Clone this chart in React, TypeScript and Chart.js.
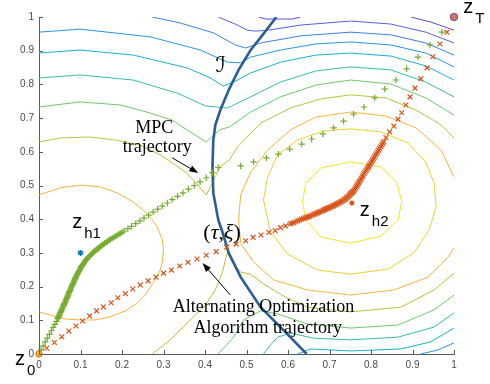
import React, { useEffect, useRef } from 'react';
import { Chart, registerables } from 'chart.js';
Chart.register(...registerables);

type P = [number, number];

const xTickLabels = ['0', '0.1', '0.2', '0.3', '0.4', '0.5', '0.6', '0.7', '0.8', '0.9', '1'];
const yTickLabels = ['0', '0.1', '0.2', '0.3', '0.4', '0.5', '0.6', '0.7', '0.8', '0.9', '1'];

const z0: P = [0, 0];
const zT: P = [1, 1];
const zH1: P = [0.1, 0.3];
const zH2: P = [0.754, 0.448];

// boundary curve I
const curveI: P[] = [
  [0.572, 1.0], [0.539, 0.947], [0.51, 0.902], [0.481, 0.843], [0.457, 0.783], [0.437, 0.724],
  [0.425, 0.68], [0.42, 0.635], [0.418, 0.555], [0.42, 0.478], [0.432, 0.398], [0.442, 0.362],
  [0.457, 0.3], [0.486, 0.228], [0.534, 0.139], [0.589, 0.071], [0.645, 0.0],
];

// MPC trajectory (+)
const mpcTraj: P[] = [
  [0, 0], [0.005, 0.012], [0.01, 0.024], [0.015, 0.036], [0.02, 0.047], [0.025, 0.058], [0.03, 0.069],
  [0.034, 0.079], [0.038, 0.088], [0.042, 0.097],
  [0.045, 0.105], [0.0465, 0.1085], [0.048, 0.112], [0.049, 0.1155], [0.05, 0.119], [0.0515, 0.1225],
  [0.053, 0.126], [0.054, 0.1295], [0.055, 0.133], [0.0565, 0.1365], [0.058, 0.14], [0.059, 0.1435],
  [0.06, 0.147], [0.0615, 0.1505], [0.063, 0.154], [0.064, 0.1575], [0.065, 0.161], [0.0665, 0.1645],
  [0.068, 0.168], [0.069, 0.1715], [0.07, 0.175], [0.071, 0.1785], [0.072, 0.182], [0.0735, 0.1855],
  [0.075, 0.189], [0.076, 0.1925], [0.077, 0.196], [0.0785, 0.1995], [0.08, 0.203], [0.081, 0.2065],
  [0.082, 0.21], [0.0835, 0.2135], [0.085, 0.217], [0.086, 0.2205], [0.087, 0.224], [0.0885, 0.2275],
  [0.09, 0.231], [0.0915, 0.2345], [0.093, 0.238], [0.0945, 0.2415], [0.096, 0.245], [0.0975, 0.2485],
  [0.099, 0.252], [0.1005, 0.2555], [0.102, 0.259], [0.104, 0.2625], [0.106, 0.266], [0.108, 0.2695],
  [0.11, 0.273], [0.112, 0.2765], [0.114, 0.28], [0.116, 0.283], [0.118, 0.286], [0.1205, 0.289],
  [0.123, 0.292], [0.1255, 0.295], [0.128, 0.298], [0.1305, 0.301], [0.133, 0.304], [0.136, 0.307],
  [0.139, 0.31], [0.142, 0.313], [0.145, 0.316], [0.148, 0.319], [0.151, 0.322], [0.1545, 0.325],
  [0.158, 0.328], [0.1615, 0.331], [0.165, 0.334], [0.1685, 0.337], [0.172, 0.34], [0.176, 0.343],
  [0.18, 0.346], [0.184, 0.349], [0.188, 0.352], [0.192, 0.355], [0.196, 0.358], [0.2005, 0.3615],
  [0.205, 0.365], [0.214, 0.372], [0.223, 0.379], [0.233, 0.387], [0.243, 0.395], [0.253, 0.403],
  [0.264, 0.412], [0.275, 0.421], [0.286, 0.43], [0.297, 0.439], [0.309, 0.448], [0.321, 0.458],
  [0.334, 0.468], [0.347, 0.478], [0.36, 0.489], [0.374, 0.5], [0.388, 0.511], [0.403, 0.523],
  [0.418, 0.538], [0.432, 0.553],
  [0.486, 0.558], [0.517, 0.57], [0.548, 0.582], [0.577, 0.593], [0.604, 0.608], [0.633, 0.623],
  [0.657, 0.638], [0.684, 0.653], [0.71, 0.671], [0.734, 0.691], [0.758, 0.712], [0.783, 0.733],
  [0.809, 0.76], [0.833, 0.786], [0.86, 0.813], [0.886, 0.846], [0.913, 0.881], [0.942, 0.917],
  [0.971, 0.955], [1, 1],
];

// Alternating Optimization trajectory (x)
const altTraj: P[] = [
  [0, 0], [0.0185, 0.017], [0.037, 0.034], [0.055, 0.051], [0.072, 0.068], [0.089, 0.083], [0.105, 0.098],
  [0.122, 0.113], [0.139, 0.128], [0.155, 0.14], [0.174, 0.152], [0.19, 0.167], [0.208, 0.179],
  [0.226, 0.193], [0.244, 0.205], [0.263, 0.217], [0.282, 0.228], [0.3, 0.24], [0.319, 0.249],
  [0.339, 0.261], [0.359, 0.272], [0.381, 0.282], [0.403, 0.293], [0.427, 0.304], [0.452, 0.317],
  [0.475, 0.326], [0.498, 0.336], [0.516, 0.346], [0.535, 0.353], [0.554, 0.361], [0.569, 0.366],
  [0.582, 0.375], [0.594, 0.38],
  [0.605, 0.386], [0.6095, 0.388], [0.614, 0.39], [0.619, 0.3925], [0.624, 0.395], [0.6285, 0.3975],
  [0.633, 0.4], [0.637, 0.402], [0.641, 0.404], [0.645, 0.4055], [0.649, 0.407], [0.6525, 0.409],
  [0.656, 0.411], [0.66, 0.413], [0.664, 0.415], [0.6675, 0.417], [0.671, 0.419], [0.674, 0.4205],
  [0.677, 0.422], [0.6805, 0.4235], [0.684, 0.425], [0.6865, 0.427], [0.689, 0.429], [0.692, 0.4305],
  [0.695, 0.432], [0.698, 0.4335], [0.701, 0.435], [0.704, 0.437], [0.707, 0.439], [0.71, 0.4405],
  [0.713, 0.442], [0.716, 0.444], [0.719, 0.446], [0.722, 0.448], [0.725, 0.45], [0.728, 0.452],
  [0.731, 0.454], [0.734, 0.4565], [0.737, 0.459], [0.7395, 0.4615], [0.742, 0.464], [0.7445, 0.4665],
  [0.747, 0.469], [0.749, 0.472], [0.751, 0.475], [0.753, 0.4775], [0.755, 0.48], [0.757, 0.4825],
  [0.759, 0.485], [0.761, 0.489], [0.763, 0.493], [0.765, 0.497], [0.767, 0.501], [0.769, 0.505],
  [0.771, 0.509], [0.773, 0.513], [0.775, 0.517], [0.777, 0.5215], [0.779, 0.526], [0.781, 0.5305],
  [0.783, 0.535], [0.7855, 0.5395], [0.788, 0.544], [0.7905, 0.5485], [0.793, 0.553], [0.795, 0.5575],
  [0.797, 0.562], [0.7995, 0.5665], [0.802, 0.571], [0.804, 0.5755], [0.806, 0.58], [0.8085, 0.585],
  [0.811, 0.59], [0.8135, 0.595], [0.816, 0.6], [0.8185, 0.605], [0.821, 0.61], [0.8235, 0.615],
  [0.826, 0.62], [0.8285, 0.625], [0.831, 0.63], [0.836, 0.642],
  [0.845, 0.659], [0.855, 0.676], [0.865, 0.697], [0.874, 0.716], [0.884, 0.739], [0.894, 0.763],
  [0.906, 0.789], [0.92, 0.817], [0.935, 0.849], [0.949, 0.882], [0.966, 0.92], [0.983, 0.955], [1, 1],
];

// contour lines
const ring1: P[] = [
  [0.635, 0.451], [0.643, 0.507], [0.679, 0.552], [0.751, 0.57], [0.824, 0.555], [0.862, 0.51],
  [0.874, 0.451], [0.865, 0.398], [0.824, 0.35], [0.751, 0.329], [0.679, 0.347], [0.643, 0.398], [0.635, 0.451],
];
const ring2: P[] = [
  [0.541, 0.457], [0.551, 0.525], [0.575, 0.591], [0.623, 0.635], [0.686, 0.662], [0.751, 0.668],
  [0.824, 0.659], [0.889, 0.626], [0.932, 0.57], [0.952, 0.507], [0.957, 0.436], [0.94, 0.368],
  [0.903, 0.3], [0.841, 0.252], [0.751, 0.237], [0.671, 0.249], [0.599, 0.297], [0.558, 0.362], [0.541, 0.457],
];
const ring3Right: P[] = [
  [1.0, 0.525], [0.969, 0.605], [0.908, 0.671], [0.836, 0.706], [0.751, 0.718], [0.667, 0.703],
  [0.606, 0.665], [0.551, 0.605], [0.51, 0.54], [0.486, 0.472], [0.481, 0.398], [0.486, 0.329],
  [0.517, 0.273], [0.565, 0.22], [0.647, 0.19], [0.751, 0.175], [0.855, 0.19], [0.937, 0.228],
  [0.986, 0.288], [1.0, 0.315],
];
const ring3Left: P[] = [
  [0, 0.472], [0.051, 0.493], [0.099, 0.501], [0.147, 0.496], [0.188, 0.478], [0.227, 0.451],
  [0.251, 0.427], [0.273, 0.398], [0.285, 0.377], [0.297, 0.338], [0.3, 0.309], [0.297, 0.273],
  [0.292, 0.249], [0.275, 0.211], [0.256, 0.175], [0.237, 0.151], [0.208, 0.128], [0.171, 0.11],
  [0.135, 0.101], [0.099, 0.101], [0.063, 0.104], [0.043, 0.11], [0, 0.125],
];
const yellowGreenUpper: P[] = [
  [0, 0.629], [0.051, 0.641], [0.121, 0.644], [0.184, 0.635], [0.242, 0.62], [0.292, 0.591],
  [0.321, 0.567], [0.353, 0.54], [0.379, 0.507], [0.403, 0.472], [0.418, 0.507], [0.435, 0.555],
  [0.459, 0.576], [0.478, 0.614], [0.534, 0.685], [0.606, 0.73], [0.679, 0.757], [0.751, 0.769],
  [0.836, 0.76], [0.908, 0.724], [0.969, 0.68], [1.0, 0.641],
];
const yellowGreenLower: P[] = [
  [1.0, 0.24], [0.952, 0.19], [0.872, 0.139], [0.751, 0.125], [0.647, 0.139], [0.589, 0.172],
  [0.541, 0.208], [0.51, 0.237], [0.486, 0.243], [0.466, 0.273], [0.454, 0.303], [0.442, 0.243],
  [0.425, 0.19], [0.401, 0.145], [0.357, 0.092], [0.316, 0.042], [0.273, 0],
];
const greenUpper: P[] = [
  [0, 0.733], [0.099, 0.748], [0.196, 0.739], [0.268, 0.715], [0.321, 0.694], [0.357, 0.665],
  [0.403, 0.629], [0.435, 0.665], [0.459, 0.674], [0.51, 0.718], [0.582, 0.763], [0.667, 0.798],
  [0.751, 0.813], [0.848, 0.801], [0.932, 0.76], [1.0, 0.709],
];
const greenLower: P[] = [
  [0.432, 0], [0.452, 0.027], [0.469, 0.05], [0.493, 0.101], [0.534, 0.128], [0.575, 0.119],
  [0.647, 0.089], [0.751, 0.077], [0.865, 0.086], [0.952, 0.131], [1.0, 0.175],
];
const tealUpper: P[] = [
  [0, 0.819], [0.099, 0.828], [0.227, 0.813], [0.333, 0.774], [0.401, 0.736], [0.454, 0.73],
  [0.51, 0.763], [0.582, 0.807], [0.667, 0.84], [0.751, 0.852], [0.848, 0.843], [0.932, 0.807], [1.0, 0.763],
];
const tealLower: P[] = [
  [0.541, 0], [0.558, 0.027], [0.575, 0.05], [0.606, 0.062], [0.662, 0.047], [0.751, 0.042],
  [0.865, 0.05], [0.952, 0.08], [1.0, 0.122],
];
const cyanUpper: P[] = [
  [0, 0.893], [0.099, 0.902], [0.227, 0.887], [0.357, 0.849], [0.413, 0.819], [0.444, 0.795],
  [0.469, 0.807], [0.51, 0.834], [0.582, 0.866], [0.667, 0.887], [0.751, 0.893], [0.848, 0.884],
  [0.932, 0.855], [1.0, 0.813],
];
const cyanLower: P[] = [
  [0.623, 0], [0.655, 0.015], [0.751, 0.009], [0.872, 0.015], [0.944, 0.036], [1.0, 0.077],
];
const lightBlueUpper: P[] = [
  [0, 0.955], [0.099, 0.964], [0.268, 0.941], [0.389, 0.902], [0.454, 0.866], [0.486, 0.864],
  [0.51, 0.881], [0.582, 0.902], [0.667, 0.92], [0.751, 0.926], [0.848, 0.917], [0.932, 0.893], [1.0, 0.852],
];
const lightBlueLower: P[] = [[0.92, 0], [0.961, 0.012], [1.0, 0.033]];
const blueUpper: P[] = [
  [0.273, 1.0], [0.341, 0.982], [0.42, 0.953], [0.473, 0.917], [0.498, 0.908], [0.534, 0.923],
  [0.63, 0.944], [0.751, 0.955], [0.848, 0.947], [0.932, 0.923], [1.0, 0.887],
];
const indigoUpper: P[] = [
  [0.432, 1.0], [0.473, 0.979], [0.502, 0.961], [0.522, 0.958], [0.553, 0.961], [0.63, 0.976],
  [0.751, 0.988], [0.848, 0.979], [0.932, 0.955], [1.0, 0.923],
];
const violetTop: P[] = [[0.529, 1.0], [0.546, 0.994], [0.611, 0.994], [0.63, 1.0]];
const violetCorner: P[] = [[0.896, 1.0], [0.944, 0.985], [1.0, 0.961]];

const contourColors = {
  c1: '#f4e51e', c2: '#f2cf2c', c3: '#f7b43d', c4: '#b9c23a', c5: '#6fc86a', c6: '#33bfa5',
  c7: '#16b1cc', c8: '#2696e0', c9: '#3a7fe8', c10: '#4d64e0', c11: '#5b50d0',
};

const toXY = (a: P[]) => a.map(([x, y]) => ({ x, y }));

export default function App() {
  const ref = useRef<HTMLCanvasElement | null>(null);

  useEffect(() => {
    if (!ref.current) return;
    const lineDs = (pts: P[], color: string, width: number, order: number) => ({
      data: toXY(pts), showLine: true, borderColor: color, borderWidth: width, pointRadius: 0,
      pointHoverRadius: 0, fill: false, tension: 0, order,
    });
    const cc = contourColors;
    const contours: [P[], string][] = [
      [ring1, cc.c1], [ring2, cc.c2], [ring3Right, cc.c3], [ring3Left, cc.c3],
      [yellowGreenUpper, cc.c4], [yellowGreenLower, cc.c4], [greenUpper, cc.c5], [greenLower, cc.c5],
      [tealUpper, cc.c6], [tealLower, cc.c6], [cyanUpper, cc.c7], [cyanLower, cc.c7],
      [lightBlueUpper, cc.c8], [lightBlueLower, cc.c8], [blueUpper, cc.c9], [indigoUpper, cc.c10],
      [violetTop, cc.c11], [violetCorner, cc.c11],
    ];
    const datasets: any[] = contours.map(([p, c]) => lineDs(p, c, 1, 10));
    datasets.push(lineDs(curveI, '#2b5e94', 2.6, 6));
    datasets.push({
      data: toXY(mpcTraj), showLine: false, pointStyle: 'cross', pointRadius: 3.2, pointBorderWidth: 1.2,
      pointBorderColor: '#77ac30', pointBackgroundColor: '#77ac30', order: 4, clip: false,
    });
    datasets.push({
      data: toXY(altTraj), showLine: false, pointStyle: 'crossRot', pointRadius: 3.4, pointBorderWidth: 1.2,
      pointBorderColor: '#d95319', pointBackgroundColor: '#d95319', order: 3, clip: false,
    });
    datasets.push({
      data: toXY([zH1]), showLine: false, pointStyle: 'star', pointRadius: 3, pointBorderWidth: 1.2,
      pointBorderColor: '#0072bd', order: 1, clip: false,
    });
    datasets.push({
      data: toXY([zH2]), showLine: false, pointStyle: 'circle', pointRadius: 2.3, pointBorderWidth: 0.5,
      pointBorderColor: '#d95319', pointBackgroundColor: '#d95319', order: 1, clip: false,
    });
    datasets.push({
      data: toXY([z0]), showLine: false, pointStyle: 'circle', pointRadius: 3.2, pointBorderWidth: 1,
      pointBorderColor: '#e07b20', pointBackgroundColor: '#f0b030', order: 1, clip: false,
    });
    datasets.push({
      data: toXY([zT]), showLine: false, pointStyle: 'circle', pointRadius: 3.5, pointBorderWidth: 1.2,
      pointBorderColor: '#8a4a9a', pointBackgroundColor: '#d2785a', order: 1, clip: false,
    });

    const xTickVals = xTickLabels.map(Number);
    const yTickVals = yTickLabels.map(Number);

    const annot = {
      id: 'annot',
      afterDraw(chart: any) {
        const { ctx, scales } = chart;
        const X = (v: number) => scales.x.getPixelForValue(v);
        const Y = (v: number) => scales.y.getPixelForValue(v);
        ctx.save();
        // inward tick marks
        ctx.strokeStyle = '#5a5a5a';
        ctx.lineWidth = 1;
        xTickVals.forEach((v) => {
          const px = Math.round(X(v)) + 0.5;
          ctx.beginPath(); ctx.moveTo(px, Y(0)); ctx.lineTo(px, Y(0) - 4); ctx.stroke();
        });
        yTickVals.forEach((v) => {
          const py = Math.round(Y(v)) + 0.5;
          ctx.beginPath(); ctx.moveTo(X(0), py); ctx.lineTo(X(0) + 4, py); ctx.stroke();
        });

        // z labels with subscripts
        const zLabel = (x: number, y: number, sub: string) => {
          const px = X(x), py = Y(y);
          ctx.fillStyle = '#000';
          ctx.textAlign = 'left';
          ctx.textBaseline = 'alphabetic';
          ctx.font = '20px "Liberation Sans", Arial, sans-serif';
          ctx.fillText('z', px, py);
          ctx.font = '15px "Liberation Sans", Arial, sans-serif';
          ctx.fillText(sub, px + 12, py + 10);
        };
        zLabel(0.08, 0.374, 'h1');
        zLabel(0.773, 0.409, 'h2');
        zLabel(-0.058, -0.033, '0');
        zLabel(1.022, 1.012, 'T');

        // script I
        ctx.fillStyle = '#000';
        ctx.font = 'italic 22px "DejaVu Serif", "DejaVu Sans", serif';
        ctx.textAlign = 'left';
        ctx.fillText('\u2110', X(0.425), Y(0.837));

        // (tau, xi)
        let cx = X(0.396);
        const by = Y(0.341);
        const parts: [string, boolean][] = [['(', false], ['\u03C4', true], [',', false], ['\u03BE', true], [')', false]];
        parts.forEach(([t, it]) => {
          ctx.font = (it ? 'italic ' : '') + '22px "Liberation Serif", "Times New Roman", serif';
          ctx.fillText(t, cx, by);
          cx += ctx.measureText(t).width;
        });

        // serif annotations
        ctx.font = '18px "Liberation Serif", "Times New Roman", serif';
        ctx.textAlign = 'center';
        ctx.fillText('MPC', X(0.278), Y(0.656));
        ctx.fillText('trajectory', X(0.285), Y(0.599));
        ctx.fillText('Alternating Optimization', X(0.541), Y(0.125));
        ctx.fillText('Algorithm trajectory', X(0.551), Y(0.062));

        // arrows
        const arrow = (x1: number, y1: number, x2: number, y2: number) => {
          const ax = X(x1), ay = Y(y1), bx = X(x2), by2 = Y(y2);
          const a = Math.atan2(by2 - ay, bx - ax);
          const L = 9, W = 3.2;
          ctx.strokeStyle = '#000';
          ctx.fillStyle = '#000';
          ctx.lineWidth = 1;
          ctx.beginPath();
          ctx.moveTo(ax, ay);
          ctx.lineTo(bx - (L - 2) * Math.cos(a), by2 - (L - 2) * Math.sin(a));
          ctx.stroke();
          ctx.beginPath();
          ctx.moveTo(bx, by2);
          ctx.lineTo(bx - L * Math.cos(a) + W * Math.sin(a), by2 - L * Math.sin(a) - W * Math.cos(a));
          ctx.lineTo(bx - L * Math.cos(a) - W * Math.sin(a), by2 - L * Math.sin(a) + W * Math.cos(a));
          ctx.closePath();
          ctx.fill();
        };
        arrow(0.321, 0.582, 0.384, 0.537);
        arrow(0.461, 0.175, 0.394, 0.27);
        ctx.restore();
      },
    };

    const tickFont = { family: '"Liberation Sans", Arial, sans-serif', size: 10 };
    const chart = new Chart(ref.current, {
      type: 'scatter',
      data: { datasets },
      options: {
        animation: false,
        responsive: false,
        devicePixelRatio: 1,
        events: [],
        layout: { padding: { top: 17, right: 36, left: 0, bottom: 0 } },
        plugins: { legend: { display: false }, tooltip: { enabled: false } },
        scales: {
          x: {
            type: 'linear', min: 0, max: 1,
            afterBuildTicks: (s: any) => { s.ticks = xTickVals.map((v) => ({ value: v })); },
            afterFit: (s: any) => { s.height = 30; },
            grid: { display: false, drawTicks: false },
            border: { display: true, color: '#5a5a5a', width: 1 },
            ticks: {
              autoSkip: false, maxRotation: 0, padding: 5, color: '#4a4a4a', font: tickFont,
              callback: (_v: any, i: number) => xTickLabels[i],
            },
          },
          y: {
            type: 'linear', min: 0, max: 1,
            afterBuildTicks: (s: any) => { s.ticks = yTickVals.map((v) => ({ value: v })); },
            afterFit: (s: any) => { s.width = 39; },
            grid: { display: false, drawTicks: false },
            border: { display: true, color: '#5a5a5a', width: 1 },
            ticks: {
              autoSkip: false, padding: 5, color: '#4a4a4a', font: tickFont,
              callback: (_v: any, i: number) => yTickLabels[i],
            },
          },
        },
      } as any,
      plugins: [annot],
    });
    return () => chart.destroy();
  }, []);

  return (
    <div style={{ position: 'fixed', left: 0, top: 0, width: 490, height: 384, background: '#fff' }}>
      <canvas ref={ref} width={490} height={384} style={{ display: 'block', width: 490, height: 384 }} />
    </div>
  );
}
